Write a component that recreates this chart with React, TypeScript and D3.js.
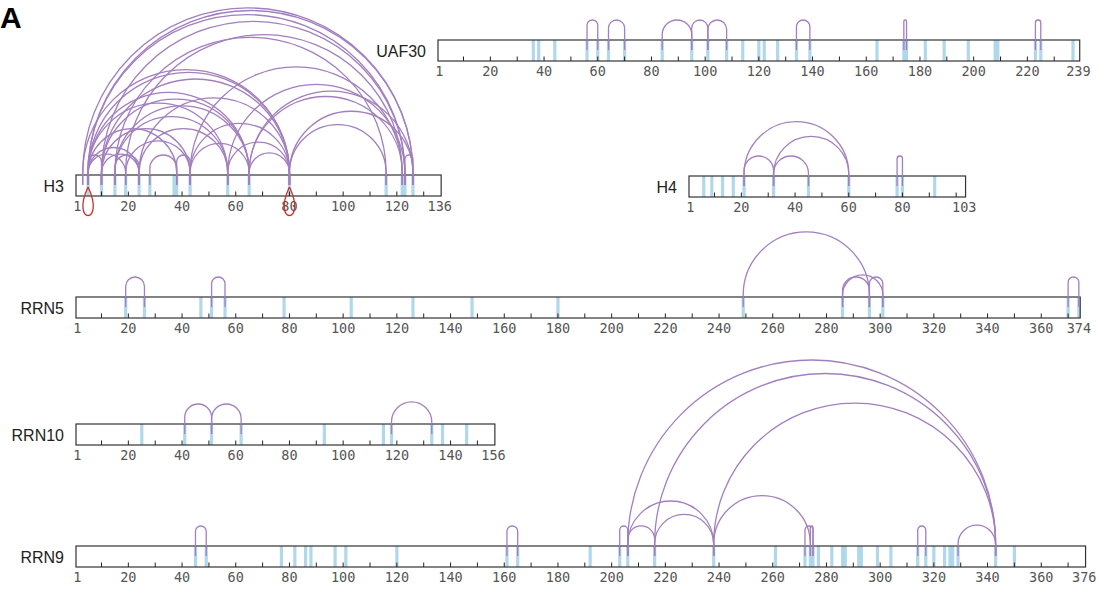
import React from "react";
import * as d3 from "d3";

// ---- data: modified sites (blue bars), crosslinks (purple arcs), self links (red loops)
const h3Sites = [5, 10, 15, 19, 24, 28, 37, 38, 43, 57, 65, 80, 116, 122, 123, 126];
const h3Links = [
  [3, 126], [5, 126], [5, 123], [10, 123], [19, 122], [15, 116],
  [43, 122], [3, 80], [5, 80], [10, 80], [57, 123], [5, 65], [65, 126],
  [10, 65], [65, 122], [5, 57], [15, 65], [80, 126], [24, 80], [15, 57],
  [43, 80], [80, 116], [10, 43], [24, 57], [5, 38], [19, 43], [57, 80],
  [43, 65], [5, 24], [10, 24], [5, 19], [65, 80], [28, 38], [38, 43],
  [5, 10], [15, 24], [123, 126],
];
const h3Loops = [5, 80];

const uaf30Sites = [36, 38, 44, 56, 60, 64, 70, 84, 95, 101, 108, 114, 120, 122, 127, 134, 139, 164, 174, 175, 182, 189, 198, 208, 209, 223, 225, 237];
const uaf30Links = [[56, 60], [64, 70], [84, 95], [95, 101], [101, 108], [134, 139], [174, 175], [223, 225]];

const h4Sites = [6, 9, 13, 17, 21, 32, 45, 60, 78, 80, 92];
const h4Links = [[21, 32], [32, 45], [21, 60], [32, 60], [78, 80]];

const rrn5Sites = [19, 26, 47, 51, 56, 78, 103, 126, 148, 180, 249, 286, 296, 301, 370, 374];
const rrn5Links = [[19, 26], [51, 56], [249, 296], [286, 296], [286, 301], [296, 301], [370, 374]];

const rrn10Sites = [25, 41, 51, 62, 93, 115, 118, 133, 137, 146];
const rrn10Links = [[41, 51], [51, 62], [118, 133]];

const rrn9Sites = [45, 49, 77, 82, 86, 88, 97, 101, 120, 161, 165, 192, 203, 206, 216, 238, 261, 272, 274, 275, 277, 282, 286, 287, 292, 293, 299, 304, 314, 317, 320, 324, 326, 327, 329, 343, 350];
const rrn9Links = [
  [45, 49], [161, 165], [203, 206], [206, 216], [216, 238], [206, 238],
  [238, 274], [272, 275], [274, 275], [314, 317], [329, 343],
  [206, 343], [216, 343], [238, 343],
];

// ---- layout
const W = 1100;
const H = 590;
const PX_PER_RES = 2.685;
const BOX_H = 21;
const MIN_ARC = 18;

const tracks = [
  { name: "H3", length: 136, sites: h3Sites, links: h3Links, loops: h3Loops, x0: 76, y0: 175 },
  { name: "UAF30", length: 239, sites: uaf30Sites, links: uaf30Links, loops: [], x0: 438, y0: 40 },
  { name: "H4", length: 103, sites: h4Sites, links: h4Links, loops: [], x0: 689, y0: 176 },
  { name: "RRN5", length: 374, sites: rrn5Sites, links: rrn5Links, loops: [], x0: 76, y0: 297 },
  { name: "RRN10", length: 156, sites: rrn10Sites, links: rrn10Links, loops: [], x0: 76, y0: 424 },
  { name: "RRN9", length: 376, sites: rrn9Sites, links: rrn9Links, loops: [], x0: 76, y0: 546 },
];

const arcPath = (x1: number, x2: number, top: number) => {
  const r = (x2 - x1) / 2;
  const base = top - 2;
  const legTop = base - Math.max(0, MIN_ARC - r);
  const p = d3.path();
  p.moveTo(x1, top + 10);
  p.lineTo(x1, legTop);
  p.arc((x1 + x2) / 2, legTop, r, Math.PI, 2 * Math.PI);
  p.lineTo(x2, top + 10);
  return p.toString();
};

// teardrop hanging under the box
const loopPath = (x: number, y: number) =>
  `M${x},${y} C${x - 18},${y + 38} ${x + 18},${y + 38} ${x},${y}`;

const Track = ({ t }: { t: any }) => {
  const sx = d3
    .scaleLinear()
    .domain([0.5, t.length + 0.5])
    .range([t.x0, t.x0 + t.length * PX_PER_RES]);
  const bottom = t.y0 + BOX_H;
  const ticks = d3.range(10, t.length, 10);
  const labels = [1, ...d3.range(20, t.length - 5, 20), t.length];

  return (
    <g>
      <rect x={sx(0.5)} y={t.y0} width={sx(t.length + 0.5) - sx(0.5)} height={BOX_H} fill="#fff" />
      {t.sites.map((s: number, i: number) => (
        <rect key={"s" + i} x={sx(s) - 1.6} y={t.y0} width={3.2} height={BOX_H} fill="#a8d3e8" opacity={0.9} />
      ))}
      {ticks.map((v: number) => (
        <line key={"t" + v} x1={sx(v)} x2={sx(v)} y1={bottom} y2={bottom - 4.5} stroke="#222" strokeWidth={1} />
      ))}
      <rect
        x={sx(0.5)}
        y={t.y0}
        width={sx(t.length + 0.5) - sx(0.5)}
        height={BOX_H}
        fill="none"
        stroke="#333"
        strokeWidth={1.2}
      />
      {labels.map((v: number) => (
        <text
          key={"l" + v}
          x={sx(v)}
          y={bottom + 15}
          textAnchor="middle"
          fontFamily="'DejaVu Sans Mono', monospace"
          fontSize={13.5}
          fill="#555"
        >
          {v}
        </text>
      ))}
      <text
        x={t.x0 - 12}
        y={t.y0 + BOX_H / 2 + 6}
        textAnchor="end"
        fontFamily="'Liberation Sans', Arial, sans-serif"
        fontSize={16}
        fill="#222"
      >
        {t.name}
      </text>
      {t.links.map(([a, b]: number[], i: number) => (
        <path key={"a" + i} d={arcPath(sx(a), sx(b), t.y0)} fill="none" stroke="#a27fbe" strokeWidth={1.3} />
      ))}
      {t.loops.map((p: number, i: number) => (
        <path key={"o" + i} d={loopPath(sx(p), bottom - 9)} fill="none" stroke="#c9302c" strokeWidth={1.3} />
      ))}
    </g>
  );
};

export default function App() {
  return (
    <svg
      width={W}
      height={H}
      style={{ position: "absolute", left: 0, top: 0, background: "#fff" }}
    >
      <text x={0} y={28} fontFamily="'Liberation Sans', Arial, sans-serif" fontWeight="bold" fontSize={30} fill="#000">
        A
      </text>
      {tracks.map((t) => (
        <Track key={t.name} t={t} />
      ))}
    </svg>
  );
}
